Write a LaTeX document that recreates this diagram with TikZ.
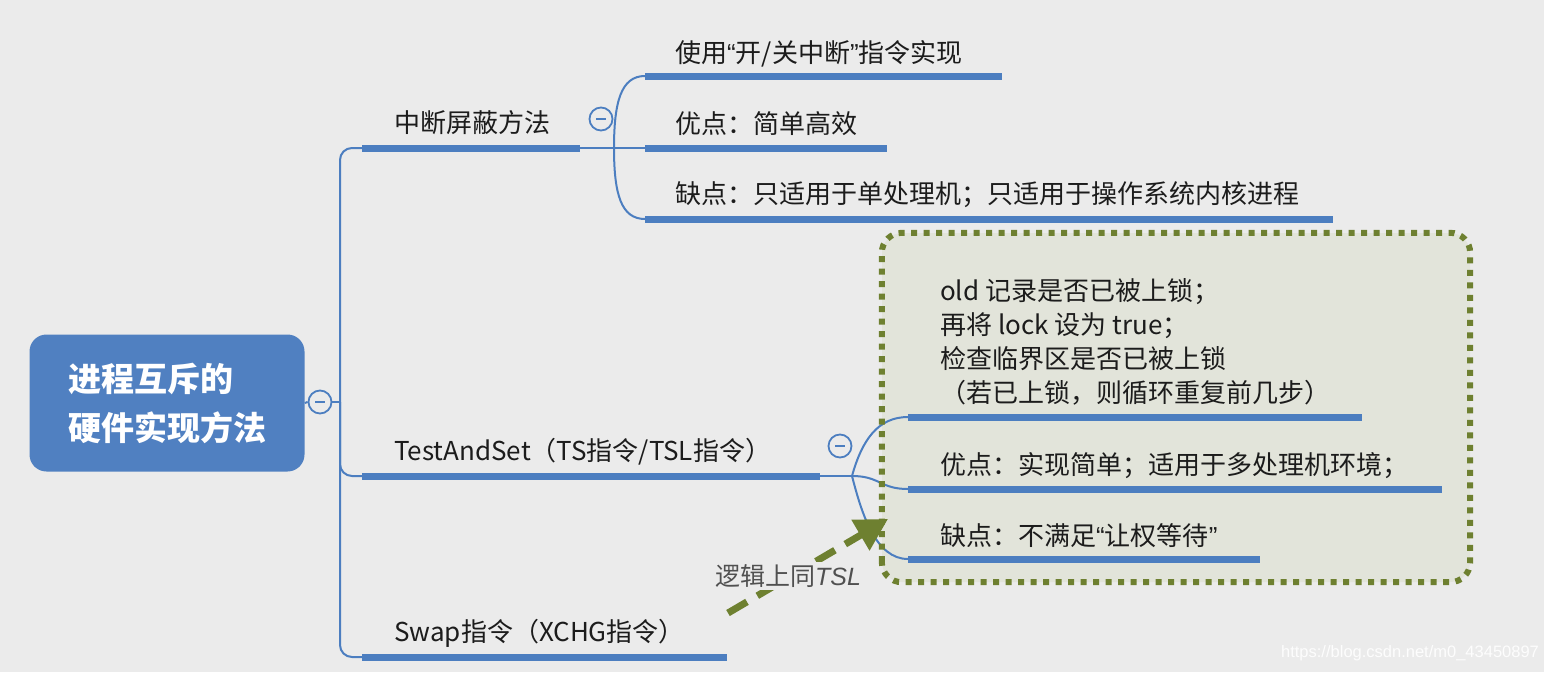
\documentclass[tikz,border=0pt]{standalone}
\usepackage{fontspec}
\setmainfont{Noto Sans CJK SC}
\newfontfamily\lsans{Liberation Sans}
\usetikzlibrary{arrows.meta}
\definecolor{bg}{RGB}{235,235,235}
\definecolor{mblue}{RGB}{76,126,192}
\definecolor{rootblue}{RGB}{80,128,193}
\definecolor{olive}{RGB}{110,128,48}
\definecolor{boxfill}{RGB}{226,228,218}
\definecolor{txt}{RGB}{28,28,28}
\definecolor{graytxt}{RGB}{80,80,80}
\newcommand{\myLq}{{\lsans “}}
\newcommand{\myRq}{{\lsans ”}}
\begin{document}
\begin{tikzpicture}[x=1pt,y=-1pt,
  lbl/.style={anchor=base west, inner sep=0pt, font=\fontsize{26}{30}\selectfont, text=txt},
  uline/.style={draw=mblue, line width=7pt},
  conn/.style={draw=mblue, line width=2pt},
  fold/.style={circle, draw=mblue, line width=1.8pt, fill=bg, minimum size=23pt, inner sep=0pt,
    path picture={\draw[mblue,line width=1.6pt] ([xshift=-5pt]path picture bounding box.center) -- ([xshift=5pt]path picture bounding box.center);}},
  root/.style={rounded corners=17pt, fill=rootblue, minimum width=275pt, minimum height=137pt,
    text=white, align=left, font=\bfseries\fontsize{33}{49}\selectfont},
  tsbox/.style={fill=boxfill, minimum width=588pt, minimum height=349pt, rounded corners=20pt, inner sep=0pt},
  boxedge/.style={draw=olive, line width=6pt, dash pattern=on 6pt off 6.5pt, rounded corners=20pt},
  garrow/.style={draw=olive, line width=7pt, dash pattern=on 22pt off 12pt, -{Triangle[length=32pt,width=34pt]}},
  note/.style={fill=bg, inner sep=2pt, text=graytxt, font=\fontsize{25}{30}\selectfont},
  wm/.style={inner sep=0pt, text=white!92!bg, font=\lsans\fontsize{16.5}{20}\selectfont}
]
\fill[bg] (0,0) rectangle (1544,672);
\useasboundingbox (0,0) rectangle (1544,672);

% root
\node[root] (root) at (167,403) {进程互斥的\\硬件实现方法};
\node[fold] (f0) at (320,402) {};
\coordinate (tk) at (340,402);

% main branches
\coordinate (b1s) at (362,148); \coordinate (b1e) at (580,148);
\coordinate (b2s) at (362,476); \coordinate (b2e) at (820,476);
\coordinate (b3s) at (362,657); \coordinate (b3e) at (727,657);

\draw[conn] (root.east) -- (f0.west);
\draw[conn] (f0.east) -- (tk);
\draw[conn, rounded corners=12pt] (b1s) -| (tk);
\draw[conn, rounded corners=12pt] (b2s) -| (tk);
\draw[conn, rounded corners=12pt] (b3s) -| (tk);
\draw[uline] (b1s) -- (b1e);
\draw[uline] (b2s) -- (b2e);
\draw[uline] (b3s) -- (b3e);
\node[lbl] (n1) at (394,132) {中断屏蔽方法};
\node[lbl] (n2) at (394,460) {TestAndSet（TS指令/TSL指令）};
\node[lbl] (n3) at (394,641) {Swap指令（XCHG指令）};

% sub-branch of 中断屏蔽方法
\node[fold] (f1) at (601,119) {};
\coordinate (fk1) at (614,148);
\coordinate (s11s) at (645,76);  \coordinate (s11e) at (1002,76);
\coordinate (s12s) at (645,148); \coordinate (s12e) at (887,148);
\coordinate (s13s) at (645,219); \coordinate (s13e) at (1333,219);
\draw[conn] (b1e) -- (fk1);
\draw[conn] (fk1) .. controls (614,102) and (621,76) .. (s11s);
\draw[conn] (fk1) -- (s12s);
\draw[conn] (fk1) .. controls (614,194) and (621,219) .. (s13s);
\draw[uline] (s11s) -- (s11e);
\draw[uline] (s12s) -- (s12e);
\draw[uline] (s13s) -- (s13e);
\node[lbl] (t11) at (675,62) {使用\myLq 开/关中断\myRq 指令实现};
\node[lbl] (t12) at (675,133) {优点：简单高效};
\node[lbl] (t13) at (675,203) {缺点：只适用于单处理机；只适用于操作系统内核进程};

% TestAndSet box
\node[tsbox] (box) at (1176,407.5) {};
\node[fold] (f2) at (840,446) {};
\coordinate (fk2) at (852,476);
\coordinate (u1s) at (908,417); \coordinate (u1e) at (1362,417);
\coordinate (u2s) at (908,489); \coordinate (u2e) at (1442,489);
\coordinate (u3s) at (908,559); \coordinate (u3e) at (1260,559);
\draw[conn] (b2e) -- (fk2);
\draw[conn] (fk2) .. controls (862,440) and (878,417) .. (u1s);
\draw[conn] (fk2) .. controls (880,476) and (880,489) .. (u2s);
\draw[conn] (fk2) .. controls (862,515) and (876,559) .. (u3s);
\draw[uline] (u1s) -- (u1e);
\draw[uline] (u2s) -- (u2e);
\draw[uline] (u3s) -- (u3e);
\draw[boxedge] (box.south west) rectangle (box.north east);
\node[lbl] (ta) at (940,300) {old 记录是否已被上锁；};
\node[lbl] (tb) at (940,334) {再将 lock 设为 true；};
\node[lbl] (tc) at (940,368) {检查临界区是否已被上锁};
\node[lbl] (td) at (940,402) {（若已上锁，则循环重复前几步）};
\node[lbl] (t22) at (940,474) {优点：实现简单；适用于多处理机环境；};
\node[lbl] (t23) at (940,545) {缺点：不满足\myLq 让权等待\myRq};

% arrow
\coordinate (atail) at (728,613);
\coordinate (atip) at (888,519);
\draw[garrow] (atail) -- (atip);
\node[note] (lg) at (788,576) {逻辑上同{\lsans\itshape TSL}};

% watermark
\node[wm] (wm) at (1410,653) {https://blog.csdn.net/m0\_43450897};
\end{tikzpicture}
\end{document}
